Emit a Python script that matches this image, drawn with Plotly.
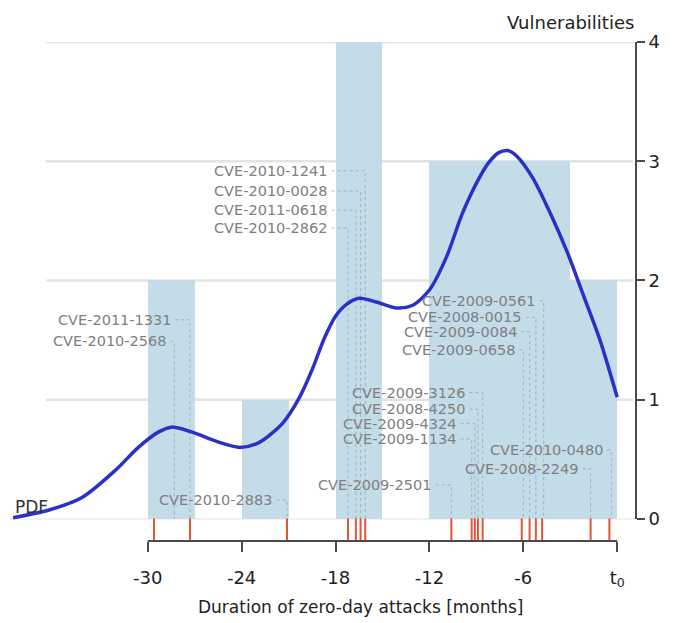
import plotly.graph_objects as go

# ---------------- data ----------------
cve_ids = ["CVE-2010-2568", "CVE-2011-1331", "CVE-2010-2883",
           "CVE-2010-2862", "CVE-2011-0618", "CVE-2010-0028", "CVE-2010-1241",
           "CVE-2009-2501",
           "CVE-2009-1134", "CVE-2009-4324", "CVE-2008-4250", "CVE-2009-3126",
           "CVE-2009-0658", "CVE-2009-0084", "CVE-2008-0015", "CVE-2009-0561",
           "CVE-2008-2249", "CVE-2010-0480"]
# duration of each zero-day attack, months before t0
durations = [-29.6, -27.3, -21.1,
             -17.2, -16.7, -16.4, -16.1,
             -10.6,
             -9.3, -9.1, -8.9, -8.6,
             -6.1, -5.6, -5.2, -4.8,
             -1.7, -0.5]

# label placement (right end of text in months, height in vulnerabilities)
label_end = [-28.7, -28.4, -21.9,
             -18.4, -18.4, -18.4, -18.4,
             -11.75,
             -10.15, -10.15, -9.6, -9.6,
             -6.4, -6.3, -6.0, -5.1,
             -2.35, -0.77]
label_y = [1.49, 1.67, 0.16,
           2.44, 2.59, 2.75, 2.92,
           0.285,
           0.67, 0.80, 0.92, 1.06,
           1.42, 1.57, 1.69, 1.83,
           0.42, 0.58]

# probability density curve (scaled to the vulnerability axis)
pdf_x = [-38.6, -36.3, -34.2, -32.05, -30.6, -29.3, -28.5, -27.2, -25.6, -24.1,
         -22.9, -21.4, -20.3, -19.5, -18.7, -18.0, -17.3, -16.5, -15.4, -14.1,
         -13.1, -12.0, -10.9, -9.9, -8.9, -8.2, -7.6, -7.0, -6.4, -5.4,
         -4.3, -3.2, -2.2, -1.1, 0.0]
pdf_y = [0.01, 0.075, 0.18, 0.41, 0.60, 0.73, 0.77, 0.73, 0.65, 0.60,
         0.64, 0.80, 1.02, 1.25, 1.52, 1.70, 1.80, 1.85, 1.82, 1.77,
         1.79, 1.92, 2.20, 2.56, 2.84, 2.99, 3.07, 3.09, 3.04, 2.86,
         2.57, 2.24, 1.89, 1.50, 1.02]

x_tickvals = [-30, -24, -18, -12, -6, 0]
x_ticktext = ["-30", "-24", "-18", "-12", "-6", "t<sub>0</sub>"]
y_tickvals = [0, 1, 2, 3, 4]

FONT = "DejaVu Sans"
AXIS_COL = "#4a4a4a"
LABEL_COL = "#808080"

fig = go.Figure()

# histogram of attack durations (3-month bins)
fig.add_trace(go.Histogram(
    x=durations, xbins=dict(start=-30, end=0, size=3), autobinx=False,
    marker=dict(color="#c3dce8", line=dict(width=0)),
    hoverinfo="skip", showlegend=False))

# leader lines from labels to events
lx, ly = [], []
for ev, le, yy in zip(durations, label_end, label_y):
    xl = max(ev, le + 0.4)
    lx += [le + 0.15, xl, xl, None]
    ly += [yy, yy, 0, None]
fig.add_trace(go.Scatter(
    x=lx, y=ly, mode="lines",
    line=dict(color="rgba(140,140,140,0.55)", width=1, dash="dot"),
    hoverinfo="skip", showlegend=False))

# rug of events
fig.add_trace(go.Scatter(
    x=durations, y=[-0.09] * len(durations), mode="markers",
    marker=dict(symbol="line-ns", size=16,
                line=dict(color="#e2553a", width=2)),
    cliponaxis=False, hoverinfo="skip", showlegend=False))

# PDF curve
fig.add_trace(go.Scatter(
    x=pdf_x, y=pdf_y, mode="lines",
    line=dict(color="#2a30c8", width=3.5, shape="spline", smoothing=0.8),
    hoverinfo="skip", showlegend=False))

# CVE labels
for name, le, yy in zip(cve_ids, label_end, label_y):
    fig.add_annotation(x=le, y=yy, text=name, showarrow=False,
                       xanchor="right", yanchor="middle",
                       font=dict(family=FONT, size=14.5, color=LABEL_COL))

fig.add_annotation(x=-38.6, y=0.0, text="PDF", showarrow=False,
                   xanchor="left", yanchor="bottom",
                   font=dict(family=FONT, size=17, color="#333333"))
fig.add_annotation(x=1, xref="paper", y=1.04, yref="paper",
                   text="Vulnerabilities", showarrow=False,
                   xanchor="right", yanchor="middle",
                   font=dict(family=FONT, size=18, color="#222222"))
fig.add_annotation(x=-16.4, y=-0.132, yref="paper",
                   text="Duration of zero-day attacks [months]", showarrow=False,
                   xanchor="center", yanchor="middle",
                   font=dict(family=FONT, size=17, color="#222222"))

# horizontal guide lines
shapes = []
for v in [1, 2, 3, 4]:
    shapes.append(dict(type="line", xref="x", yref="y", x0=-36.5, x1=1.0,
                       y0=v, y1=v, layer="below",
                       line=dict(color="#e3e3e3", width=2.5)))
shapes.append(dict(type="line", xref="paper", yref="y", x0=0, x1=1,
                   y0=0, y1=0, layer="below",
                   line=dict(color="#ececec", width=1.5)))
# axis lines (limited spans)
shapes.append(dict(type="line", xref="x", yref="paper", x0=-30, x1=0,
                   y0=0, y1=0, line=dict(color=AXIS_COL, width=2)))
shapes.append(dict(type="line", xref="paper", yref="y", x0=1, x1=1,
                   y0=0, y1=4, line=dict(color=AXIS_COL, width=2)))

# page body has an 8px margin, so the figure is sized to fit the window
fig.update_layout(
    width=668, height=615,
    margin=dict(l=2, r=40, t=34, b=82),
    paper_bgcolor="white", plot_bgcolor="white",
    bargap=0, showlegend=False, shapes=shapes,
    font=dict(family=FONT, color="#222222"),
    xaxis=dict(range=[-38.8, 1.2], showgrid=False, zeroline=False,
               showline=False, tickvals=x_tickvals, ticktext=x_ticktext,
               ticks="outside", ticklen=10, tickwidth=2, tickcolor=AXIS_COL,
               ticklabelstandoff=10,
               tickfont=dict(family=FONT, size=18, color="#222222")),
    yaxis=dict(range=[-0.185, 4.0], side="right", showgrid=False,
               zeroline=False, showline=False, tickvals=y_tickvals,
               ticks="outside", ticklen=8, tickwidth=2, tickcolor=AXIS_COL,
               tickfont=dict(family=FONT, size=18, color="#222222")),
)

fig.write_html("out.html")
